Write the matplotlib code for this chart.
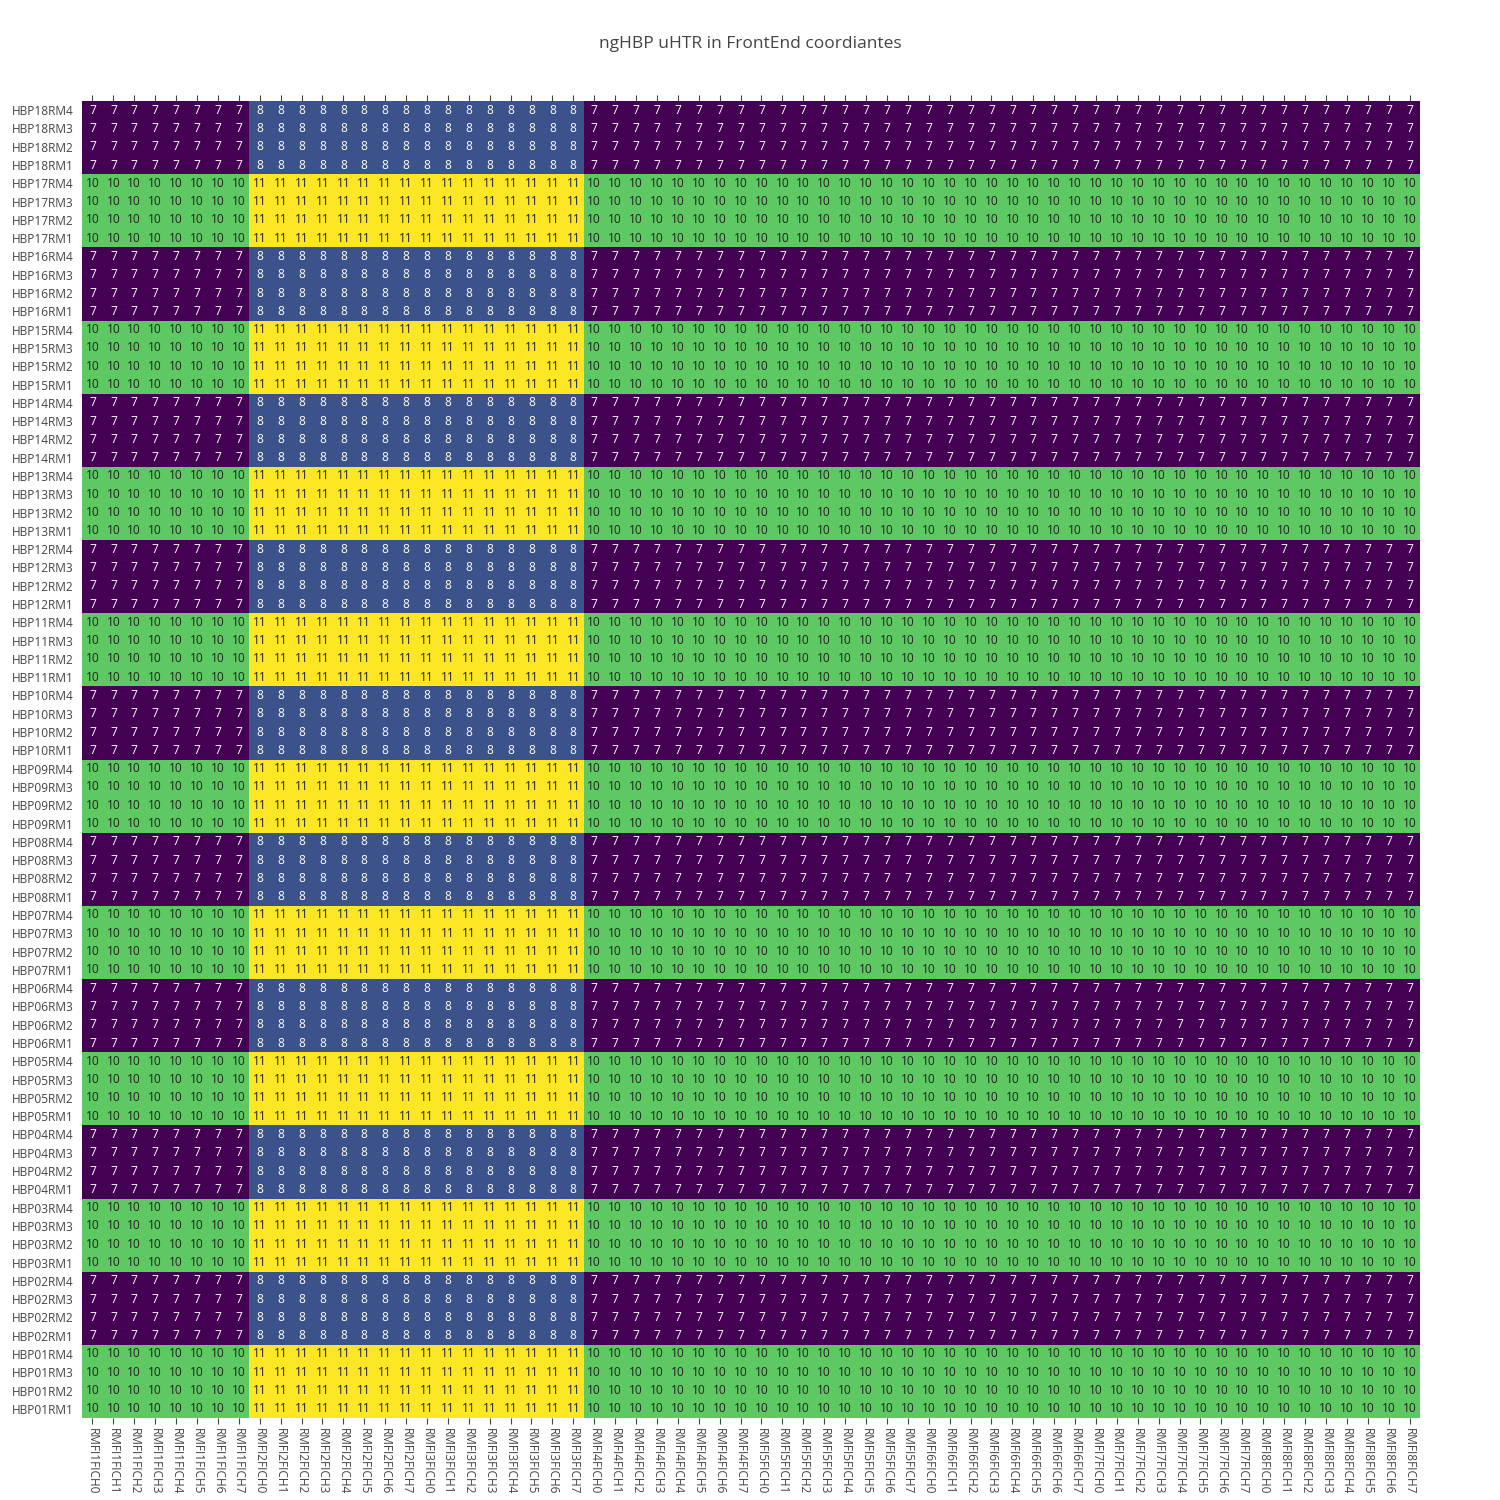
import numpy as np
import matplotlib.pyplot as plt

plt.rcParams['font.family'] = ['Open Sans', 'DejaVu Sans']

# values
hbp_names = [f'HBP{i:02d}' for i in range(1, 19)]
rm_names = ['RM1', 'RM2', 'RM3', 'RM4']
fi_names = [f'RMFI{i}' for i in range(1, 9)]
ch_names = [f'FICH{i}' for i in range(8)]

# value in the RMFI1 columns for each HBP (same for all 4 RMs)
hbp_values = [10, 7, 10, 7, 10, 7, 10, 7, 10, 7, 10, 7, 10, 7, 10, 7, 10, 7]
# extra added in each RMFI block
fi_offsets = [0, 1, 1, 0, 0, 0, 0, 0]

row_labels = [h + r for h in hbp_names for r in rm_names]
col_labels = [f + c for f in fi_names for c in ch_names]

row_vals = np.repeat(hbp_values, len(rm_names))
col_vals = np.repeat(fi_offsets, len(ch_names))
z = row_vals[:, None] + col_vals[None, :]

fig = plt.figure(figsize=(15, 15), dpi=100)
ax = fig.add_axes([82 / 1500, 1 - 1418 / 1500, (1420 - 82) / 1500, (1418 - 101) / 1500])

ax.pcolormesh(np.arange(len(col_labels) + 1) - 0.5,
              np.arange(len(row_labels) + 1) - 0.5,
              z, cmap='viridis', vmin=7, vmax=11)

for i in range(len(row_labels)):
    for j in range(len(col_labels)):
        v = z[i, j]
        ax.text(j, i, str(v), ha='center', va='center', fontsize=8.6,
                color='white' if v < 9 else '#222222')

ax.set_xlim(-0.5, len(col_labels) - 0.5)
ax.set_ylim(-0.5, len(row_labels) - 0.5)
ax.set_xticks(np.arange(len(col_labels)))
ax.set_xticklabels(col_labels, rotation=270, fontsize=8.6, color='#444444')
ax.set_yticks(np.arange(len(row_labels)))
ax.set_yticklabels(row_labels, fontsize=8.6, color='#444444')
ax.tick_params(axis='x', top=True, bottom=True, length=4, width=0.8,
               color='#444444', pad=3, direction='out')
ax.tick_params(axis='y', length=0, pad=6)
for s in ax.spines.values():
    s.set_visible(False)

fig.text(0.5, 1 - 44 / 1500, 'ngHBP uHTR in FrontEnd coordiantes',
         ha='center', va='center', fontsize=12.5, color='#444444')

fig.savefig('out.png', dpi=100)
